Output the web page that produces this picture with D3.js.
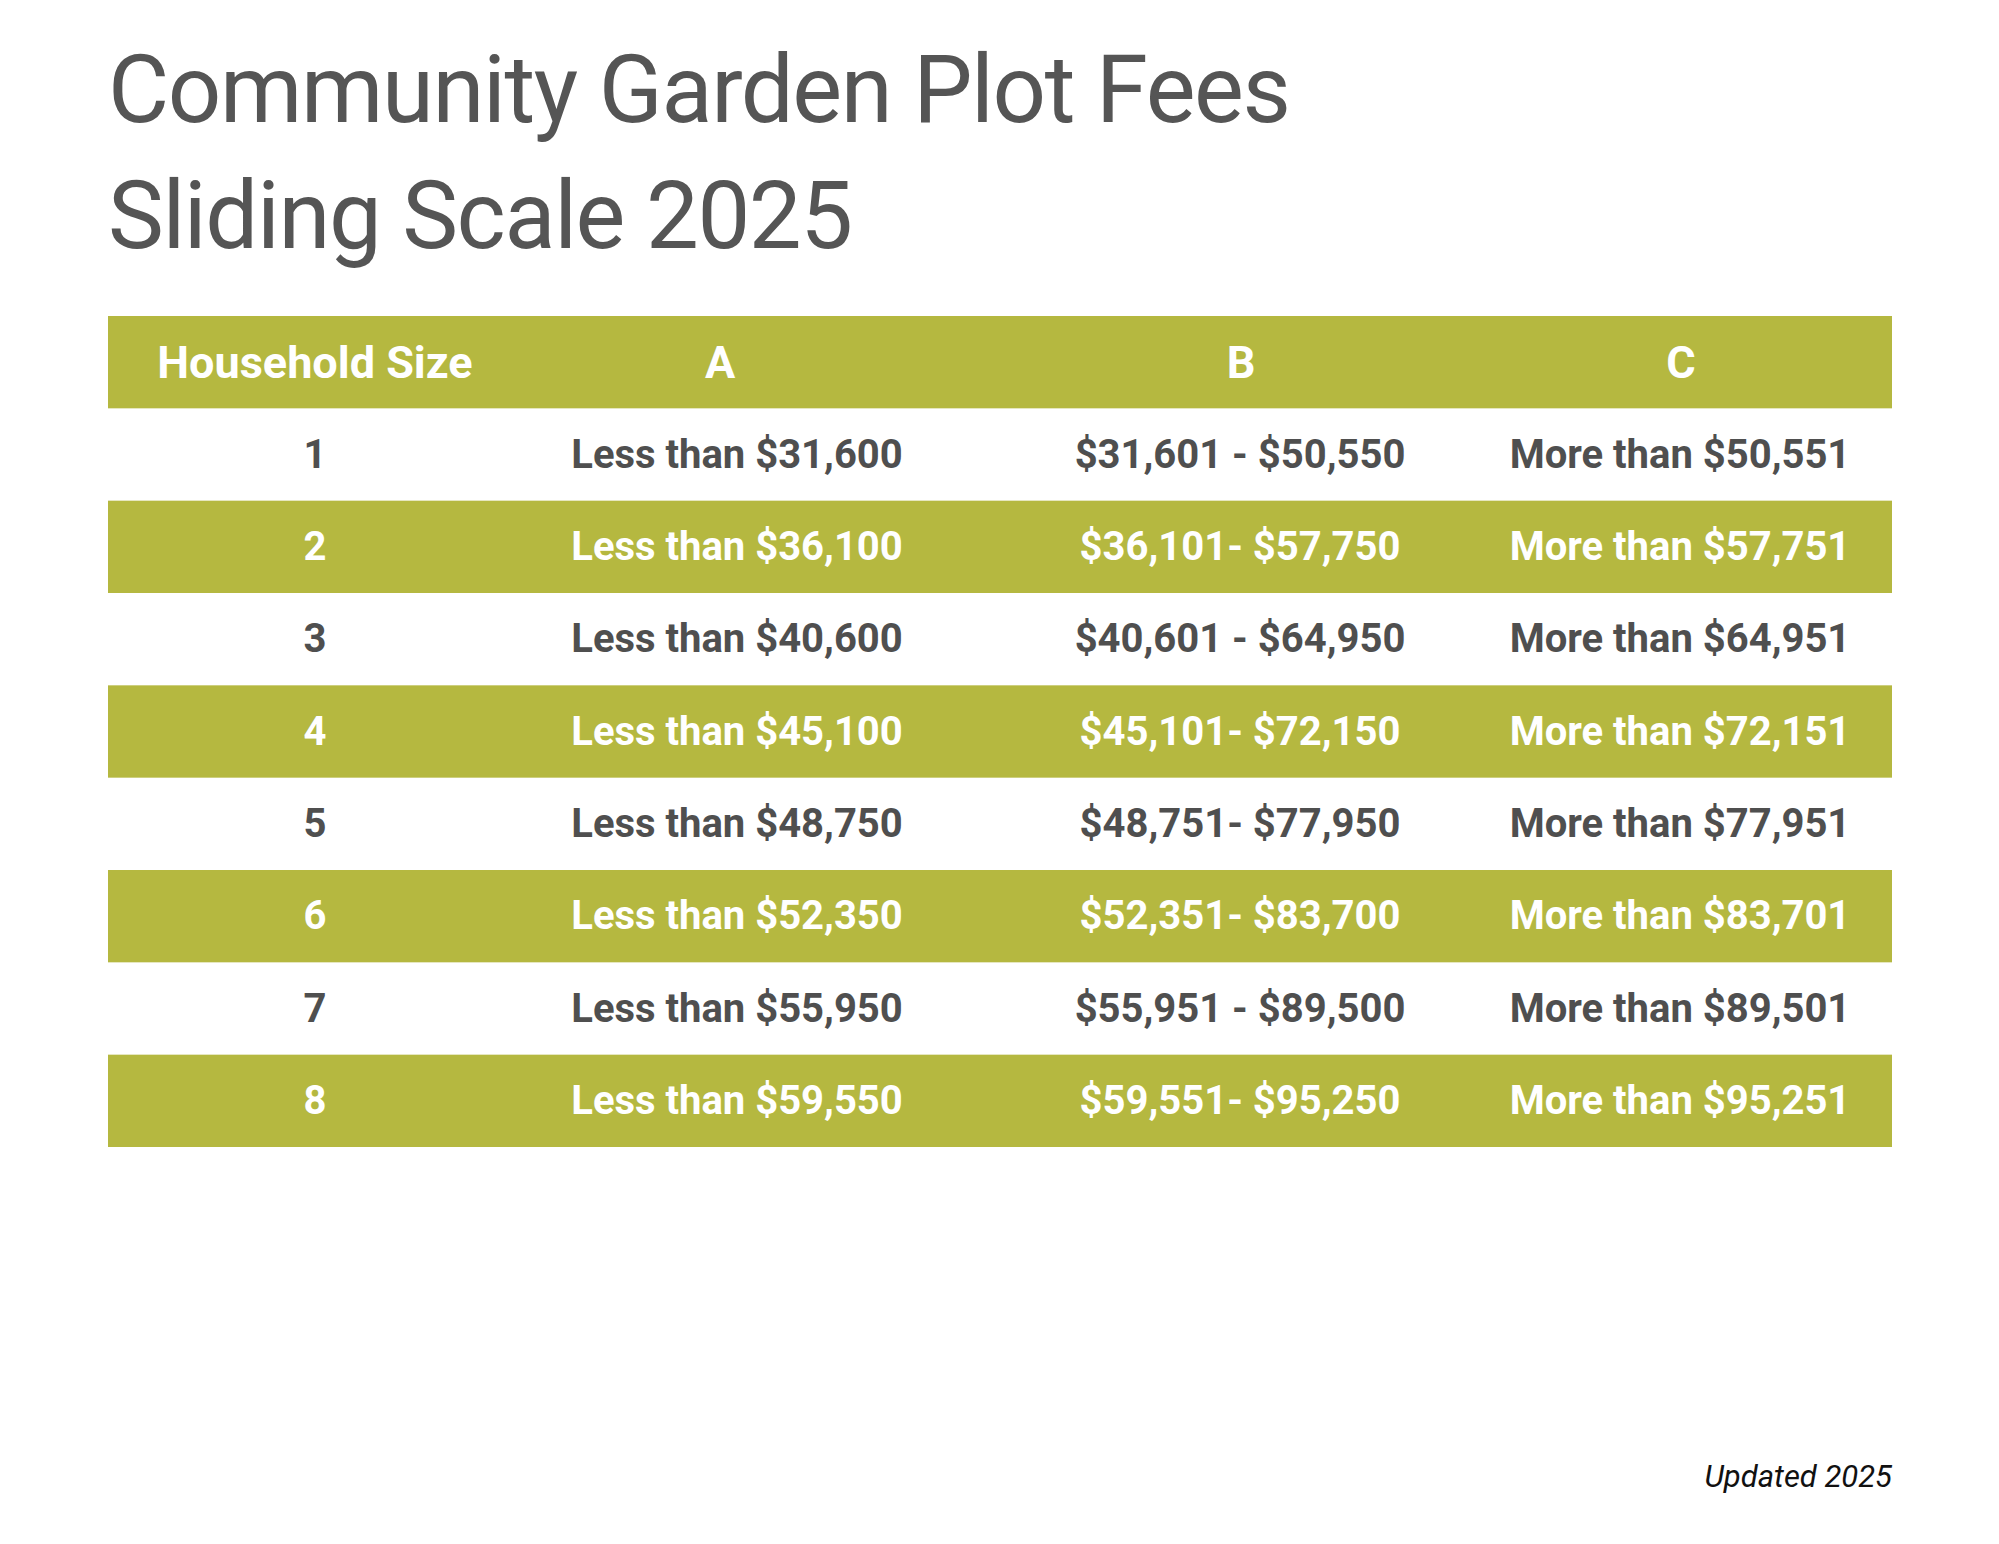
<!DOCTYPE html>
<html>
<head>
<meta charset="utf-8">
<script src="https://cdn.jsdelivr.net/npm/d3@7"></script>
<style>
  html, body { margin: 0; padding: 0; background: #fff; }
  svg { display: block; font-family: Roboto, "Noto Sans", sans-serif; }
</style>
</head>
<body>
<script>
// table content
var titleLines = ["Community Garden Plot Fees", "Sliding Scale 2025"];
var columns = ["Household Size", "A", "B", "C"];
var householdSizes = ["1", "2", "3", "4", "5", "6", "7", "8"];
var tierA = ["Less than $31,600", "Less than $36,100", "Less than $40,600", "Less than $45,100",
             "Less than $48,750", "Less than $52,350", "Less than $55,950", "Less than $59,550"];
var tierB = ["$31,601 - $50,550", "$36,101- $57,750", "$40,601 - $64,950", "$45,101- $72,150",
             "$48,751- $77,950", "$52,351- $83,700", "$55,951 - $89,500", "$59,551- $95,250"];
var tierC = ["More than $50,551", "More than $57,751", "More than $64,951", "More than $72,151",
             "More than $77,951", "More than $83,701", "More than $89,501", "More than $95,251"];
var footnote = "Updated 2025";

// page size
var width = 1999, height = 1544;
var green = "#b5b840", gray = "#4f4f4f";

// table frame
var table = {left: 108, right: 1892, top: 316, bottom: 1147};

var svg = d3.select("body").append("svg")
    .attr("width", width)
    .attr("height", height);

// title
svg.selectAll("text.title")
    .data(titleLines)
    .enter()
    .append("text")
    .attr("class", "title")
    .attr("x", 108)
    .attr("y", function(d, i) { return 122 + i * 126; })
    .attr("font-size", 94)
    .attr("letter-spacing", -1.4)
    .attr("fill", "#555555")
    .text(function(d) { return d; });

// rows: header + one per household size
var rowKeys = ["header"].concat(householdSizes);
var yScale = d3.scaleBand()
    .domain(rowKeys)
    .range([table.top, table.bottom]);

// column centres
var xScale = d3.scaleOrdinal()
    .domain(columns)
    .range([315, 737, 1240, 1680]);
var headerX = d3.scaleOrdinal()
    .domain(columns)
    .range([315, 720, 1241, 1681]);

// header and even rows are green
svg.selectAll("rect.band")
    .data(rowKeys.filter(function(d, i) { return i % 2 === 0; }))
    .enter()
    .append("rect")
    .attr("class", "band")
    .attr("x", table.left)
    .attr("width", table.right - table.left)
    .attr("y", function(d) { return yScale(d); })
    .attr("height", yScale.bandwidth())
    .attr("fill", green);

// header labels
svg.selectAll("text.head")
    .data(columns)
    .enter()
    .append("text")
    .attr("class", "head")
    .attr("x", function(d) { return headerX(d); })
    .attr("y", yScale("header") + yScale.bandwidth() / 2 + 16)
    .attr("text-anchor", "middle")
    .attr("font-size", 45)
    .attr("font-weight", 700)
    .attr("fill", "#ffffff")
    .text(function(d) { return d; });

// body cells
var cells = [];
householdSizes.forEach(function(size, i) {
  [size, tierA[i], tierB[i], tierC[i]].forEach(function(v, j) {
    cells.push({row: size, col: columns[j], value: v, shaded: i % 2 === 1});
  });
});

svg.selectAll("text.cell")
    .data(cells)
    .enter()
    .append("text")
    .attr("class", "cell")
    .attr("x", function(d) { return xScale(d.col); })
    .attr("y", function(d) { return yScale(d.row) + yScale.bandwidth() / 2 + 13; })
    .attr("text-anchor", "middle")
    .attr("font-size", 40)
    .attr("font-weight", 700)
    .attr("fill", function(d) { return d.shaded ? "#ffffff" : gray; })
    .text(function(d) { return d.value; });

// footnote
svg.append("text")
    .attr("x", table.right)
    .attr("y", 1487)
    .attr("text-anchor", "end")
    .attr("font-size", 31)
    .attr("font-style", "italic")
    .attr("fill", "#111111")
    .text(footnote);
</script>
</body>
</html>
